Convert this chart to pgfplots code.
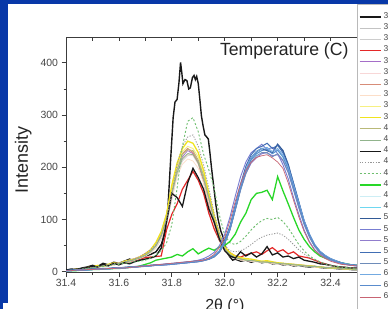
\documentclass[border=0pt]{standalone}
\usepackage{fontspec}
\setmainfont{Liberation Sans}
\usepackage{pgfplots}
\usepackage{pgfplotstable}
\pgfplotsset{compat=1.18}
\definecolor{bgblue}{RGB}{8,56,168}
\definecolor{axisgray}{RGB}{60,60,60}
\definecolor{tickgray}{RGB}{70,70,70}
\definecolor{labelgray}{RGB}{35,35,35}
\definecolor{legendgray}{RGB}{185,185,185}
\definecolor{sA}{RGB}{25,25,25}
\definecolor{sB}{RGB}{195,195,195}
\definecolor{sC}{RGB}{205,205,205}
\definecolor{sD}{RGB}{228,40,40}
\definecolor{sE}{RGB}{165,110,200}
\definecolor{sF}{RGB}{248,215,215}
\definecolor{sG}{RGB}{215,140,120}
\definecolor{sH}{RGB}{252,222,200}
\definecolor{sI}{RGB}{246,240,130}
\definecolor{sJ}{RGB}{240,228,30}
\definecolor{sK}{RGB}{185,185,120}
\definecolor{sL}{RGB}{145,180,140}
\definecolor{sM}{RGB}{25,25,25}
\definecolor{sN}{RGB}{150,150,150}
\definecolor{sO}{RGB}{110,190,110}
\definecolor{sP}{RGB}{40,215,40}
\definecolor{sQ}{RGB}{205,238,245}
\definecolor{sR}{RGB}{110,215,240}
\definecolor{sS}{RGB}{50,90,150}
\definecolor{sT}{RGB}{120,125,210}
\definecolor{sU}{RGB}{145,125,205}
\definecolor{sV}{RGB}{65,110,180}
\definecolor{sW}{RGB}{110,140,185}
\definecolor{sX}{RGB}{115,170,225}
\definecolor{sY}{RGB}{90,140,205}
\definecolor{sZ}{RGB}{200,100,115}

\pgfplotstableread{
X c2 c3 c4 c5 c6 c7 c8 c9 c10 c11 c12 c13 c14 c15 c16 c17 c18 c19 c20 c21 c22 c23 c24 c25 c26
31.40 2 1 3 3 2 2 2 3 2 2 1 4 2 2 1 1 2 2 2 1 2 2 2 2 2
31.42 2 3 2 2 3 4 2 3 3 3 3 3 3 3 2 2 2 3 2 2 3 2 2 2 2
31.44 5 3 4 4 3 4 4 5 5 4 4 5 4 4 2 3 2 3 3 3 3 3 3 3 3
31.46 4 5 5 6 5 6 4 5 4 6 5 6 5 5 3 3 4 4 4 3 3 3 3 3 3
31.48 6 6 6 6 7 7 6 8 8 7 6 8 7 6 3 3 3 4 4 4 4 4 4 3 4
31.50 9 8 8 8 7 9 8 8 9 8 8 10 8 7 4 5 4 5 4 4 5 4 4 4 4
31.52 9 9 9 11 10 10 9 11 12 10 10 9 10 9 4 4 5 5 5 5 5 4 5 5 5
31.54 12 10 11 10 11 12 10 11 10 12 11 14 11 10 5 6 6 6 6 5 6 5 5 5 5
31.56 12 13 12 13 12 13 12 14 14 13 12 11 13 11 5 5 5 6 6 6 6 6 6 5 6
31.58 15 13 14 15 14 15 13 14 17 14 14 16 15 13 6 7 6 7 7 6 7 6 6 6 6
31.60 15 15 15 15 16 17 15 17 15 16 15 13 17 14 6 7 8 7 7 7 7 7 7 7 7
31.62 17 17 17 19 17 19 16 18 20 18 18 17 19 16 7 7 7 8 8 7 8 7 8 7 7
31.64 22 20 19 20 21 22 19 22 22 21 20 15 22 17 8 9 9 9 8 8 8 8 8 8 8
31.66 23 22 22 25 22 25 22 24 24 23 23 19 25 19 9 8 9 9 10 9 9 9 9 9 9
31.68 27 26 24 27 27 29 25 29 28 28 26 22 29 20 11 10 10 10 10 10 10 9 10 10 10
31.70 32 30 27 34 31 35 30 33 34 32 31 24 35 22 14 11 12 11 11 10 11 10 11 10 11
31.72 38 36 28 39 38 42 36 41 42 40 38 26 42 26 17 11 11 12 12 11 12 11 12 11 12
31.74 50 45 29 53 48 55 46 53 56 50 49 30 52 32 22 13 13 13 13 12 12 12 12 12 13
31.76 66 62 30 70 68 76 64 74 76 70 68 45 70 40 24 12 13 13 14 13 13 13 13 13 14
31.78 98 90 80 102 98 110 94 108 110 102 100 95 100 55 26 14 15 14 15 13 14 14 14 13 15
31.80 146 138 110 150 148 160 140 158 166 152 148 150 150 90 28 14 14 15 15 14 16 14 15 14 16
31.82 188 185 130 196 192 204 182 202 208 196 190 142 205 160 33 16 17 16 17 15 16 15 16 15 17
31.84 218 212 158 220 214 226 206 230 236 224 216 125 240 240 30 16 16 17 18 16 17 16 17 16 18
31.86 226 222 175 232 224 236 216 240 250 234 226 170 258 288 38 18 19 18 19 17 18 17 18 17 19
31.88 230 225 192 226 222 228 212 236 246 232 224 198 262 295 44 18 18 19 20 18 20 18 19 18 20
31.90 212 212 175 210 205 208 198 220 228 214 208 180 240 268 34 20 21 20 22 19 20 19 20 19 21
31.92 180 185 150 176 175 172 170 186 194 184 178 158 205 225 40 21 22 22 25 21 22 21 22 21 22
31.94 142 145 112 138 136 130 132 144 150 142 140 120 160 195 45 24 26 24 30 24 25 24 25 24 26
31.96 100 104 82 96 96 92 94 102 108 100 98 95 112 160 41 28 31 29 37 29 30 28 30 29 33
31.98 66 70 60 64 64 60 62 68 72 67 66 62 74 108 47 37 40 38 50 38 40 37 40 39 46
32.00 44 47 45 42 42 40 41 45 48 44 43 40 50 70 50 54 58 55 72 56 60 54 57 56 66
32.02 32 33 36 31 31 30 30 33 36 33 32 30 40 55 58 80 84 82 105 82 88 80 84 82 98
32.04 27 27 30 26 26 26 25 28 30 27 27 26 38 52 72 118 122 120 145 120 128 118 124 121 135
32.06 24 24 28 23 23 24 22 25 27 25 24 38 40 58 95 156 162 160 182 158 168 156 164 160 169
32.08 22 22 32 22 21 22 21 23 25 22 22 30 45 68 112 188 194 194 210 188 202 188 196 193 194
32.10 21 20 35 20 20 21 20 22 24 22 21 36 52 80 138 210 214 218 228 208 224 210 218 214 210
32.12 19 20 38 20 19 20 19 21 22 20 20 28 60 90 150 220 226 230 236 218 236 222 230 226 219
32.14 19 18 33 18 18 19 18 19 20 20 18 34 66 98 152 228 232 236 244 226 240 228 236 232 222
32.16 18 18 40 18 17 18 17 19 21 18 18 48 70 102 156 226 236 232 234 228 246 228 238 234 224
32.18 17 17 46 16 16 17 16 18 19 18 17 32 72 100 138 222 226 228 238 222 236 220 230 226 218
32.20 16 15 38 16 15 16 15 17 17 16 16 36 74 104 182 226 232 244 226 224 242 226 236 233 210
32.22 15 15 42 15 15 16 14 16 16 16 15 28 70 96 155 214 220 232 205 212 228 214 224 220 198
32.24 14 14 34 14 14 14 13 15 15 15 14 30 62 84 130 192 196 205 178 190 204 190 200 196 170
32.26 13 13 38 13 12 14 12 14 14 14 13 25 52 68 104 158 162 168 142 158 170 156 166 162 137
32.28 12 12 30 12 12 13 12 13 13 13 12 28 42 52 80 124 126 132 110 124 134 122 132 128 105
32.30 11 11 28 11 11 12 11 12 12 12 11 22 34 40 62 92 94 96 80 92 98 90 98 95 77
32.32 11 10 26 10 10 11 10 11 11 11 10 20 27 30 48 66 68 70 58 68 72 66 72 70 56
32.34 9 10 22 10 9 10 9 10 10 10 10 18 22 24 38 48 49 50 42 49 52 48 52 51 41
32.36 9 8 18 9 8 9 8 9 9 9 9 15 18 19 30 36 37 38 33 37 39 36 39 38 32
32.38 8 8 15 8 8 8 7 8 8 8 8 14 14 15 26 28 29 30 27 29 31 28 31 30 25
32.40 7 7 12 7 7 8 7 8 7 8 7 12 12 12 23 23 24 24 22 23 25 23 25 24 20
32.42 7 6 10 7 6 7 6 7 7 7 7 10 10 10 20 19 20 20 18 19 21 19 21 20 17
32.44 6 6 9 6 6 6 5 6 6 6 6 9 9 9 17 16 17 17 16 16 17 16 17 17 14
32.46 5 5 8 5 5 6 5 6 5 6 5 8 8 8 15 14 14 14 14 14 15 14 15 14 13
32.48 5 5 7 5 5 5 4 5 5 5 5 7 7 7 13 12 13 13 12 12 13 12 13 13 12
32.50 4 4 6 4 4 5 4 5 4 5 4 7 6 6 12 11 12 12 11 11 12 11 12 12 11
}\data

\begin{document}
\begin{tikzpicture}[x=1bp,y=1bp]
\path[use as bounding box] (0,0) rectangle (388,309);
\clip (0,0) rectangle (388,309);
\fill[bgblue] (0,0) rectangle (388,309);
\fill[white] (8.3,6) rectangle (388,305);
\fill[white] (2.7,0) rectangle (388,6);

% top axis: inward ticks only
\begin{axis}[at={(66bp,36.3bp)}, anchor=south west, scale only axis,
  width=291bp, height=235.4bp,
  xmin=31.4, xmax=32.5, ymin=-2, ymax=449,
  axis line style={draw=none},
  xtick={31.4,31.6,31.8,32.0,32.2,32.4}, minor x tick num=1,
  xtick pos=right, ytick=\empty, xticklabels={},
  tick align=inside, major tick length=4bp, minor tick length=4bp,
  tick style={color=axisgray, line width=0.8bp}]
\end{axis}

\begin{axis}[at={(66bp,36.3bp)}, anchor=south west, scale only axis,
  width=291bp, height=235.4bp,
  xmin=31.4, xmax=32.5, ymin=-2, ymax=449,
  axis line style={color=axisgray, line width=0.9bp},
  tick style={color=axisgray, line width=0.8bp},
  tick align=outside, xtick pos=left, ytick pos=left,
  major tick length=4.5bp, minor tick length=2.5bp,
  xtick={31.4,31.6,31.8,32.0,32.2,32.4}, minor x tick num=1,
  ytick={0,100,200,300,400}, minor y tick num=1,
  /pgf/number format/assume math mode=true,
  ticklabel style={font=\fontsize{10.5}{12}\selectfont, text=tickgray},
  xticklabel style={inner sep=2bp, /pgf/number format/.cd, fixed, fixed zerofill, precision=1},
  xlabel={2θ (°)}, ylabel={Intensity},
  xlabel style={at={(axis description cs:0.546,-0.143)}, anchor=center, font=\fontsize{16}{18}\selectfont, text=labelgray},
  ylabel style={at={(axis description cs:-0.1467,0.479)}, anchor=center, font=\fontsize{18}{20}\selectfont, text=labelgray},
  legend style={at={(1.0,1.1395)}, anchor=north west, draw=legendgray, fill=white,
    line width=0.6bp, font=\fontsize{8.5}{9}\selectfont, text=tickgray,
    inner xsep=1.5bp, inner ysep=6.5bp, row sep=0pt, column sep=2.5bp,
    nodes={inner sep=0pt, text height=7bp, text depth=4.2bp}},
  legend cell align=left,
  legend image code/.code={\draw[#1] (0bp,0bp) -- (21bp,0bp);},
  legend entries={300,310,320,330,340,350,360,370,380,390,400,410,420,430,440,450,460,470,500,510,520,530,540,600,610,620},
]
\addplot[sA, line width=1.4bp] coordinates {(31.40,3)(31.42,5)(31.44,4)(31.46,7)(31.48,9)(31.50,12)(31.52,10)(31.54,16)(31.56,13)(31.58,18)(31.60,16)(31.62,20)(31.64,24)(31.66,21)(31.68,27)(31.70,30)(31.72,33)(31.74,38)(31.76,52)(31.775,75)(31.785,120)(31.795,210)(31.805,295)(31.812,325)(31.82,330)(31.827,362)(31.833,401)(31.838,380)(31.842,360)(31.85,368)(31.857,366)(31.864,350)(31.87,352)(31.878,372)(31.884,376)(31.889,368)(31.894,374)(31.9,360)(31.906,330)(31.912,298)(31.918,280)(31.925,262)(31.932,258)(31.938,254)(31.944,228)(31.95,199)(31.958,165)(31.966,130)(31.975,100)(31.985,78)(31.994,66)(32.003,48)(32.012,34)(32.02,28)(32.03,22)(32.04,24)(32.06,20)(32.08,22)(32.10,18)(32.12,21)(32.14,17)(32.16,19)(32.18,15)(32.20,16)(32.22,13)(32.24,14)(32.26,11)(32.28,12)(32.30,10)(32.32,9)(32.34,10)(32.36,8)(32.38,7)(32.40,7)(32.42,6)(32.44,5)(32.46,5)(32.48,4)(32.50,4)};
\addplot[sB, line width=0.7bp] table[x index=0, y index=1] {\data};
\addplot[sC, line width=0.7bp] table[x index=0, y index=2] {\data};
\addplot[sD, line width=1.2bp] table[x index=0, y index=3] {\data};
\addplot[sE, line width=0.7bp] table[x index=0, y index=4] {\data};
\addplot[sF, line width=0.7bp] table[x index=0, y index=5] {\data};
\addplot[sG, line width=1.0bp] table[x index=0, y index=6] {\data};
\addplot[sH, line width=0.7bp] table[x index=0, y index=7] {\data};
\addplot[sI, line width=0.9bp] table[x index=0, y index=8] {\data};
\addplot[sJ, line width=1.3bp] table[x index=0, y index=9] {\data};
\addplot[sK, line width=0.8bp] table[x index=0, y index=10] {\data};
\addplot[sL, line width=0.8bp] table[x index=0, y index=11] {\data};
\addplot[sM, line width=1.3bp] table[x index=0, y index=12] {\data};
\addplot[sN, line width=0.8bp, dash pattern=on 1.2bp off 1.5bp] table[x index=0, y index=13] {\data};
\addplot[sO, line width=0.9bp, dash pattern=on 2bp off 2bp] table[x index=0, y index=14] {\data};
\addplot[sP, line width=1.3bp] table[x index=0, y index=15] {\data};
\addplot[sQ, line width=0.8bp] table[x index=0, y index=16] {\data};
\addplot[sR, line width=0.8bp] table[x index=0, y index=17] {\data};
\addplot[sS, line width=1.3bp] table[x index=0, y index=18] {\data};
\addplot[sT, line width=0.9bp] table[x index=0, y index=19] {\data};
\addplot[sU, line width=0.9bp] table[x index=0, y index=20] {\data};
\addplot[sV, line width=1.0bp] table[x index=0, y index=21] {\data};
\addplot[sW, line width=0.8bp] table[x index=0, y index=22] {\data};
\addplot[sX, line width=0.9bp] table[x index=0, y index=23] {\data};
\addplot[sY, line width=0.9bp] table[x index=0, y index=24] {\data};
\addplot[sZ, line width=0.7bp] table[x index=0, y index=25] {\data};
\node[font=\fontsize{17.7}{20}\selectfont, text=labelgray] at (rel axis cs:0.75,0.94) {Temperature (C)};
\end{axis}
\end{tikzpicture}
\end{document}
